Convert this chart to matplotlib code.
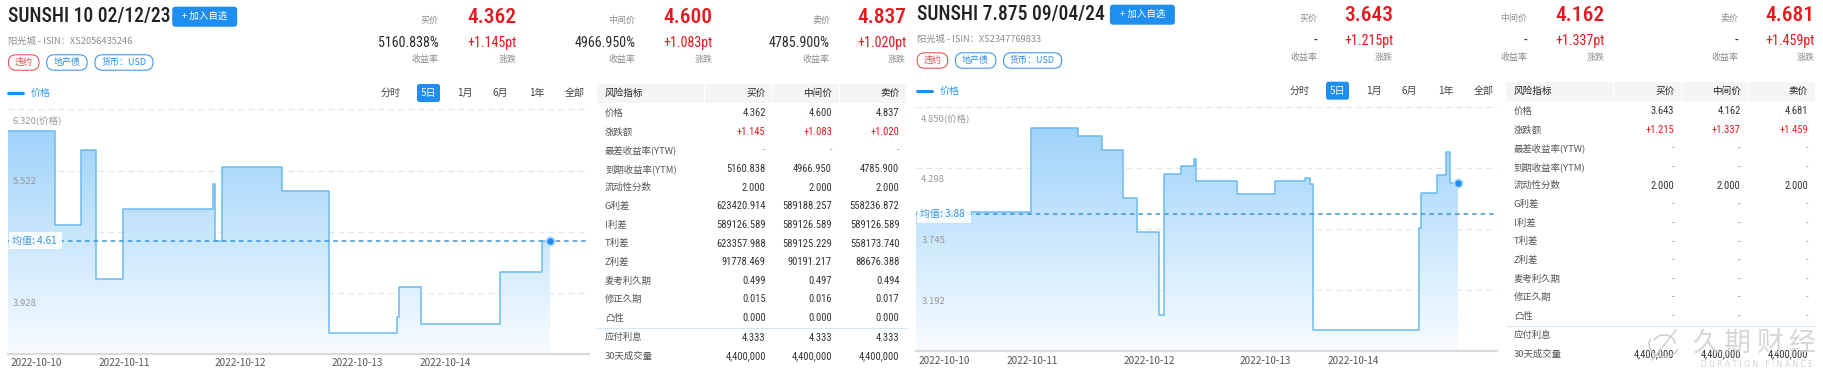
import numpy as np
import matplotlib
matplotlib.use('Agg')
import matplotlib.pyplot as plt
from matplotlib import font_manager
from matplotlib.patches import FancyBboxPatch, PathPatch, Rectangle, Arc
from matplotlib.colors import LinearSegmentedColormap

# ---- font selection: prefer a narrow/condensed Latin face for numbers & titles
_fl = font_manager.fontManager.ttflist
_names = {f.name for f in _fl}
NARROW, STRETCH, CONDENSED = 'Roboto', 'normal', False
for n in ['Liberation Sans Narrow', 'Roboto Condensed', 'Noto Sans Condensed',
          'Open Sans Condensed', 'Arial Narrow', 'Noto Sans Display Condensed']:
    if n in _names:
        NARROW, STRETCH, CONDENSED = n, 'normal', True
        break
# size factors (px) used when only a regular-width face is available
S_TITLE = 1.0 if CONDENSED else 0.84
S_BIG = 1.0 if CONDENSED else 0.95
S_TAB = 1.0 if CONDENSED else 0.96
CJK = 'Noto Sans CJK SC'
plt.rcParams['font.family'] = [CJK, 'DejaVu Sans']

W, H, DPI = 1824, 376, 100
PT = 72.0 / DPI

# ------------------------------------------------------------------ data
DATES = ['2022-10-10', '2022-10-11', '2022-10-12', '2022-10-13', '2022-10-14']
DATE_POS = [24.2, 101.0, 202.5, 303.8, 380.8]          # time index of date labels
PERIODS = ['分时', '5日', '1月', '6月', '1年', '全部']

# bond 1: SUNSHI 10 02/12/23  (step series: change times + values)
L_T = [0, 40.7, 64, 76.7, 100, 178.3, 180, 186.7, 238.7, 279.7, 338.7, 340.7,
       359.3, 428.3, 465.3, 472]
L_V = [6.038, 4.811, 5.796, 4.104, 5.019, 5.353, 4.61, 5.574, 5.249, 3.405,
       3.617, 4.000, 3.522, 4.203, 4.600]
L_YTICKS = [6.320, 5.522, 4.725, 3.928]
L_YMIN = 3.131
L_MEAN = 4.61

# bond 2: SUNSHI 7.875 09/04/24
R_T = [0, 100, 140.3, 161.6, 180.3, 192.3, 211.6, 215.6, 230.3, 242, 243.3,
       279.6, 312.6, 338.6, 342.6, 345.3, 437.6, 439.6, 453.6, 461, 465.3, 472]
R_V = [3.90, 4.665, 4.593, 4.463, 4.026, 3.717, 2.968, 4.243, 4.315, 4.379,
       4.182, 4.062, 4.182, 4.209, 4.152, 2.832, 3.754, 4.071, 4.237, 4.445, 4.162]
R_YTICKS = [4.850, 4.298, 3.745, 3.192]
R_YMIN = 2.639
R_MEAN = 3.88

# header quotes
L_TITLE = 'SUNSHI 10 02/12/23'
L_ISIN = '阳光城 - ISIN：XS2056435246'
L_QUOTES = [('买价', '4.362', '5160.838%', '+1.145pt'),
            ('中间价', '4.600', '4966.950%', '+1.083pt'),
            ('卖价', '4.837', '4785.900%', '+1.020pt')]
R_TITLE = 'SUNSHI 7.875 09/04/24'
R_ISIN = '阳光城 - ISIN：XS2347769833'
R_QUOTES = [('买价', '3.643', '-', '+1.215pt'),
            ('中间价', '4.162', '-', '+1.337pt'),
            ('卖价', '4.681', '-', '+1.459pt')]
TAGS = ['违约', '地产债', '货币：USD']

# risk table
TABLE_HEAD = ['风险指标', '买价', '中间价', '卖价']
ROWS = ['价格', '涨跌额', '最差收益率(YTW)', '到期收益率(YTM)', '流动性分数', 'G利差',
        'I利差', 'T利差', 'Z利差', '麦考利久期', '修正久期', '凸性']
EXTRA_ROWS = ['应付利息', '30天成交量']
L_BID = ['4.362', '+1.145', '-', '5160.838', '2.000', '623420.914', '589126.589',
         '623357.988', '91778.469', '0.499', '0.015', '0.000']
L_MID = ['4.600', '+1.083', '-', '4966.950', '2.000', '589188.257', '589126.589',
         '589125.229', '90191.217', '0.497', '0.016', '0.000']
L_ASK = ['4.837', '+1.020', '-', '4785.900', '2.000', '558236.872', '589126.589',
         '558173.740', '88676.388', '0.494', '0.017', '0.000']
L_EXTRA = [['4.333', '4.333', '4.333'], ['4,400,000', '4,400,000', '4,400,000']]
R_BID = ['3.643', '+1.215', '-', '-', '2.000', '-', '-', '-', '-', '-', '-', '-']
R_MID = ['4.162', '+1.337', '-', '-', '2.000', '-', '-', '-', '-', '-', '-', '-']
R_ASK = ['4.681', '+1.459', '-', '-', '2.000', '-', '-', '-', '-', '-', '-', '-']
R_EXTRA = [['', '', ''], ['4,400,000', '4,400,000', '4,400,000']]

# ------------------------------------------------------------------ styles
RED = '#e8161d'
BLUE = '#1e8ff0'
DARK = '#2b2b2b'
GRAY = '#8c8c8c'
FILL_CMAP = LinearSegmentedColormap.from_list('f', ['#f8fcff', '#9fd3fa'])

fig = plt.figure(figsize=(W / DPI, H / DPI), dpi=DPI)
bg = fig.add_axes([0, 0, 1, 1], zorder=0)
bg.set_xlim(0, W)
bg.set_ylim(H, 0)
bg.axis('off')


def txt(x, y, s, size, color=DARK, ha='left', va='center', narrow=False, z=3, **kw):
    if narrow:
        bg.text(x, y, s, fontsize=size * PT, color=color, ha=ha, va=va,
                family=[NARROW, 'DejaVu Sans'], stretch=STRETCH, zorder=z, **kw)
    else:
        bg.text(x, y, s, fontsize=size * PT, color=color, ha=ha, va=va,
                family=[CJK, 'DejaVu Sans'], zorder=z, **kw)


def rbox(x0, y0, x1, y1, r, fc, ec='none', lw=1.0, z=2):
    bg.add_patch(FancyBboxPatch((x0, y0), x1 - x0, y1 - y0,
                                boxstyle=f'round,pad=0,rounding_size={r}',
                                fc=fc, ec=ec, lw=lw * PT, zorder=z))


def header(ox, oy, title, isin, quotes, qx, bx0):
    txt(ox + 8.4, oy + 16.7, title, 19.6 * S_TITLE, color='#222222', narrow=True,
        fontweight='medium')
    rbox(ox + bx0, oy + 6.7, ox + bx0 + 65, oy + 26.7, 3, BLUE)
    txt(ox + bx0 + 32.5, oy + 16.5, '+ 加入自选', 9.5, color='white', ha='center')
    txt(ox + 8.4, oy + 41.3, isin, 9.3, color=GRAY)
    tag_x = [(8.4, 39.0), (46.7, 87.2), (94.9, 153.0)]
    for (a, b), t in zip(tag_x, TAGS):
        c = '#e5484d' if t == '违约' else '#2f8de4'
        rbox(ox + a, oy + 54.8, ox + b, oy + 70.2, 7.5, 'white', ec=c, lw=1.0)
        txt(ox + (a + b) / 2, oy + 62.5, t, 9, color=c, ha='center')
    for (lab, price, yld, chg), (xl, xr) in zip(quotes, qx):
        txt(xl, oy + 20, lab, 9, color=GRAY, ha='right')
        txt(xr, oy + 17.3, price, 21.5 * S_BIG, color=RED, ha='right', narrow=True,
            fontweight='medium')
        txt(xl, oy + 43.3, yld, 14 * S_BIG, color=DARK, ha='right', narrow=True)
        txt(xr, oy + 43.3, chg, 14 * S_BIG, color=RED, ha='right', narrow=True)
        txt(xl, oy + 59.3, '收益率', 9, color=GRAY, ha='right')
        txt(xr, oy + 59.3, '涨跌', 9, color=GRAY, ha='right')


def toolbar(ox, oy):
    bg.plot([ox + 8.4, ox + 23], [oy + 93, oy + 93], color=BLUE, lw=3 * PT, solid_capstyle='round')
    txt(ox + 30.6, oy + 93, '价格', 10, color='#3a9bec')
    pos = [390.3, 428.5, 465.0, 500.5, 537.0, 575.0]
    for p, lab in zip(pos, PERIODS):
        if lab == '5日':
            rbox(ox + p - 11.5, oy + 84, ox + p + 11.5, oy + 102, 2.5, BLUE)
            txt(ox + p, oy + 93, lab, 10, color='white', ha='center')
        else:
            txt(ox + p, oy + 93, lab, 10, color='#444444', ha='center')


def chart(px0, px1, py0, py1, T, V, yticks, ymin, mean):
    ax = fig.add_axes([px0 / W, 1 - py1 / H, (px1 - px0) / W, (py1 - py0) / H], zorder=2)
    ax.patch.set_alpha(0)
    ymax = yticks[0]
    yy = list(V) + [V[-1]]
    coll = ax.fill_between(T, yy, ymin, step='post', facecolor='none', edgecolor='none')
    clip = PathPatch(coll.get_paths()[0], transform=ax.transData, fc='none', ec='none')
    ax.add_patch(clip)
    grad = np.linspace(1, 0, 256).reshape(-1, 1)
    im = ax.imshow(grad, extent=[T[0], T[-1], ymin, max(V)], origin='upper',
                   aspect='auto', cmap=FILL_CMAP, interpolation='bilinear', zorder=1)
    im.set_clip_path(clip)
    for v in yticks:
        ax.axhline(v, color='#e4e4e4', lw=0.8, ls=(0, (5, 4)), clip_on=False, zorder=0.5)
    ax.axhline(ymin, color='#dadada', lw=1.6, clip_on=False, zorder=3)
    ax.step(T, yy, where='post', color='#6bbbf0', lw=1.1, zorder=3)
    ax.axhline(mean, color='#3a96de', lw=1.1, ls=(0, (3, 2.6)), zorder=4)
    ax.plot([T[-1]], [V[-1]], 'o', ms=6.0, color='#1d8cf0', mec='#b5dcfb', mew=1.3,
            zorder=6, clip_on=False)
    labels = [f'{yticks[0]:.3f}(价格)'] + [f'{v:.3f}' for v in yticks[1:]]
    for v, s in zip(yticks, labels):
        ax.annotate(s, xy=(0, v), xycoords=('axes fraction', 'data'), xytext=(4.8, -11),
                    textcoords='offset pixels', va='center', ha='left',
                    fontsize=9.5 * PT, color='#999999', zorder=5)
    ax.annotate(f'均值: {mean:.2f} ', xy=(0, mean), xycoords=('axes fraction', 'data'),
                xytext=(4, 0), textcoords='offset pixels', va='center', ha='left',
                fontsize=10 * PT, color='#3a96de', zorder=7,
                bbox=dict(boxstyle='square,pad=0.35', fc='white', ec='none', alpha=0.85))
    for d, p in zip(DATES, DATE_POS):
        ax.annotate(d, xy=(p, 0), xycoords=('data', 'axes fraction'), xytext=(0, -9.5),
                    textcoords='offset pixels', ha='center', va='center',
                    fontsize=10 * PT, color='#555555', annotation_clip=False)
    ax.set_xlim(0, 506.2)
    ax.set_ylim(ymin, ymax)
    ax.set_axis_off()
    return ax


def table(ox, oy, bid, mid, ask, extra):
    cells = [(597, 704), (705.5, 772), (773.5, 839), (840.5, 906)]
    for a, b in cells:
        bg.add_patch(Rectangle((ox + a, oy + 84), b - a, 19, fc='#f4f5f7', ec='none', zorder=1))
    cols = [765.7, 832.0, 899.3]
    txt(ox + 605, oy + 93.5, TABLE_HEAD[0], 9.6, color='#222222')
    for c, h in zip(cols, TABLE_HEAD[1:]):
        txt(ox + c, oy + 93.5, h, 9.6, color='#222222', ha='right')
    for i, name in enumerate(ROWS):
        y = oy + 113.3 + i * 18.62
        txt(ox + 605, y, name, 9.4, color='#555555')
        for c, vals in zip(cols, (bid, mid, ask)):
            s = vals[i]
            col = RED if name == '涨跌额' else ('#999999' if s == '-' else '#333333')
            txt(ox + c, y, s, 10.5 * S_TAB, color=col, ha='right', narrow=True)
    bg.plot([ox + 597, ox + 906], [oy + 327.7, oy + 327.7], color='#d5e7f6', lw=1.0 * PT, zorder=2)
    for j, name in enumerate(EXTRA_ROWS):
        y = oy + 337.7 + j * 18.6
        txt(ox + 605, y, name, 9.4, color='#555555')
        for c, s in zip(cols, extra[j]):
            txt(ox + c, y, s, 10.5 * S_TAB, color='#333333', ha='right', narrow=True)


# ---- left panel
header(0, 0, L_TITLE, L_ISIN, L_QUOTES,
       [(438.4, 516.7), (635.3, 712.4), (829.9, 906.2)], 172.2)
toolbar(0, 0)
chart(8.0, 589.3, 109.3, 354.0, L_T, L_V, L_YTICKS, L_YMIN, L_MEAN)
table(0, 0, L_BID, L_MID, L_ASK, L_EXTRA)

# ---- right panel
header(908.7, -2, R_TITLE, R_ISIN, R_QUOTES,
       [(1317.3, 1393.2), (1527.3, 1605.0), (1738.3, 1815.0)], 201.2)
toolbar(909.0, -2.3)
chart(916.5, 1497.4, 107.3, 351.0, R_T, R_V, R_YTICKS, R_YMIN, R_MEAN)
table(908.7, -2, R_BID, R_MID, R_ASK, R_EXTRA)

# ---- watermark
wm = '#cfcfcf'
for k, ch in enumerate('久期财经'):
    txt(1706 + k * 32, 343, ch, 27, color=wm, ha='center', z=8, alpha=0.85)
bg.text(1757, 364.5, 'D U R A T I O N   F I N A N C E', fontsize=7.6 * PT, color=wm,
        ha='center', va='center', family=['DejaVu Sans'], zorder=8, alpha=0.9)
bg.add_patch(Arc((1664, 344), 30, 26, theta1=20, theta2=200, color=wm, lw=1.6 * PT, zorder=8))
bg.add_patch(Arc((1664, 344), 22, 18, theta1=200, theta2=360, color=wm, lw=1.6 * PT, zorder=8))
bg.plot([1652, 1676], [360, 330], color=wm, lw=1.4 * PT, zorder=8)

fig.savefig('out.png', dpi=DPI)
